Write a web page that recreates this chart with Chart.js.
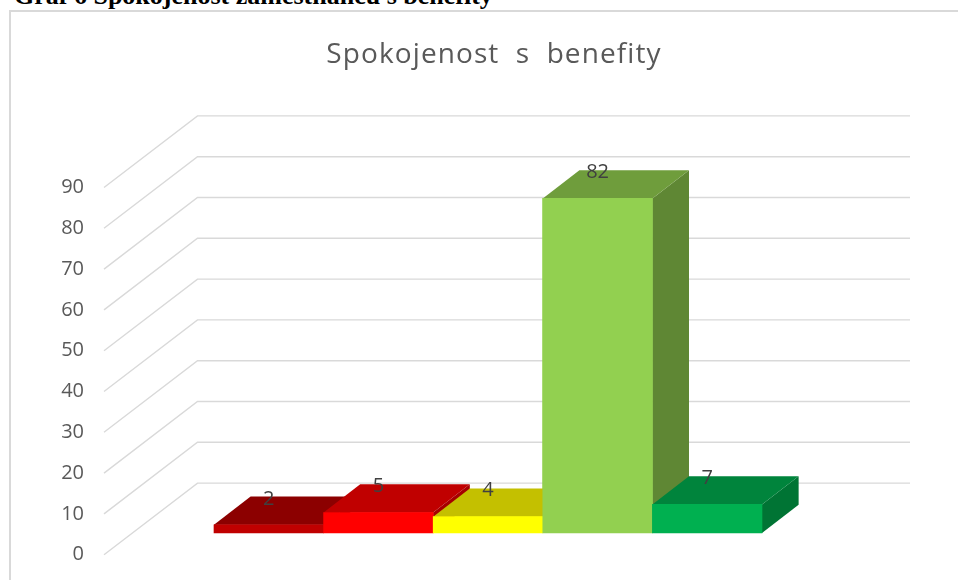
<!DOCTYPE html>
<html>
<head>
<meta charset="utf-8">
<title>Spokojenost s benefity</title>
<script src="https://cdn.jsdelivr.net/npm/chart.js@4"></script>
<style>
  html, body { margin: 0; padding: 0; background: #fff; overflow: hidden; }
  body { width: 958px; height: 580px; position: relative; }
  #heading {
    position: absolute; left: 14px; top: -17px;
    font: bold 26px "Liberation Serif", "Times New Roman", serif;
    line-height: 26px; color: #000; white-space: nowrap;
  }
  #frame { position: absolute; left: 9px; top: 10px; width: 1000px; height: 1000px; border: 2px solid #d9d9d9; }
  #wrap { position: absolute; left: 0; top: 0; width: 958px; height: 580px; }
</style>
</head>
<body>
<div id="heading">Graf 6 Spokojenost zaměstnanců s benefity</div>
<div id="frame"></div>
<div id="wrap"><canvas id="chart"></canvas></div>
<script>
const categories = ['Velmi nespokojen', 'Spíše nespokojen', 'Nevím', 'Spíše spokojen', 'Velmi spokojen'];
const values = [2, 5, 4, 82, 7];
const yTicks = [0, 10, 20, 30, 40, 50, 60, 70, 80, 90];
const chartTitle = 'Spokojenost s benefity';

// face colours: front / top / right side
const frontColors = ['#C00000', '#FF0000', '#FFFF00', '#92D050', '#00B050'];
const topColors = ['#8C0000', '#C00000', '#C4C000', '#6F9D3C', '#00843C'];
const sideColors = ['#780000', '#A60000', '#A6A300', '#5F8734', '#007434'];

// 3d offsets in px
const barDepth = { dx: 36.6, dy: -28.3 };
const gridFront = { x: -110, dy: 21.7 };
const gridBack = { x: -16.5, dy: -49.9 };

const fake3d = {
    id: 'fake3d',
    beforeDatasetsDraw(chart) {
        const ctx = chart.ctx;
        const y = chart.scales.y;
        const area = chart.chartArea;
        ctx.save();

        // floor/wall gridlines: front edge -> back wall -> right
        ctx.strokeStyle = '#d9d9d9';
        ctx.lineWidth = 1.4;
        yTicks.forEach(v => {
            const py = y.getPixelForValue(v);
            ctx.beginPath();
            ctx.moveTo(area.left + gridFront.x, py + gridFront.dy);
            ctx.lineTo(area.left + gridBack.x, py + gridBack.dy);
            ctx.lineTo(area.right + 148, py + gridBack.dy);
            ctx.stroke();
        });

        // tick labels sit on the front edge
        ctx.fillStyle = '#595959';
        ctx.font = '20px "Open Sans"';
        ctx.textAlign = 'right';
        ctx.textBaseline = 'middle';
        yTicks.forEach(v => {
            ctx.fillText(String(v), area.left - 130, y.getPixelForValue(v) + gridFront.dy);
        });

        // chart title
        ctx.font = '28px "Open Sans"';
        ctx.textAlign = 'center';
        ctx.textBaseline = 'alphabetic';
        ctx.letterSpacing = '1.1px';
        ctx.wordSpacing = '8px';
        ctx.fillText(chartTitle, 494, 63);
        ctx.restore();
    },
    afterDatasetsDraw(chart) {
        const ctx = chart.ctx;
        const bars = chart.getDatasetMeta(0).data;
        const dx = barDepth.dx, dy = barDepth.dy;
        ctx.save();
        // paint left to right so right bars cover the sides of left ones
        bars.forEach((bar, i) => {
            const p = bar.getProps(['x', 'y', 'base', 'width'], true);
            const l = p.x - p.width / 2;
            const r = p.x + p.width / 2;

            ctx.fillStyle = sideColors[i];
            ctx.beginPath();
            ctx.moveTo(r, p.y);
            ctx.lineTo(r + dx, p.y + dy);
            ctx.lineTo(r + dx, p.base + dy);
            ctx.lineTo(r, p.base);
            ctx.closePath();
            ctx.fill();

            ctx.fillStyle = topColors[i];
            ctx.beginPath();
            ctx.moveTo(l, p.y);
            ctx.lineTo(l + dx, p.y + dy);
            ctx.lineTo(r + dx, p.y + dy);
            ctx.lineTo(r, p.y);
            ctx.closePath();
            ctx.fill();

            bar.draw(ctx, chart.chartArea);
        });

        // value labels
        ctx.fillStyle = '#404040';
        ctx.font = '20px "Open Sans"';
        ctx.textAlign = 'center';
        ctx.textBaseline = 'middle';
        bars.forEach((bar, i) => {
            ctx.fillText(String(values[i]), bar.x, bar.y - 26);
        });
        ctx.restore();
    }
};

const chart = new Chart(document.getElementById('chart'), {
    type: 'bar',
    data: {
        labels: categories,
        datasets: [{
            label: chartTitle,
            data: values,
            backgroundColor: frontColors,
            borderWidth: 0,
            barPercentage: 1,
            categoryPercentage: 1
        }]
    },
    options: {
        responsive: true,
        maintainAspectRatio: false,
        animation: false,
        events: [],
        layout: {
            padding: { top: 125, bottom: 47, left: 214, right: 196 }
        },
        plugins: {
            legend: { display: false },
            title: { display: false },
            tooltip: { enabled: false }
        },
        scales: {
            x: { display: false },
            y: { display: false, min: 0, max: 100 }
        }
    },
    plugins: [fake3d]
});
</script>
</body>
</html>
